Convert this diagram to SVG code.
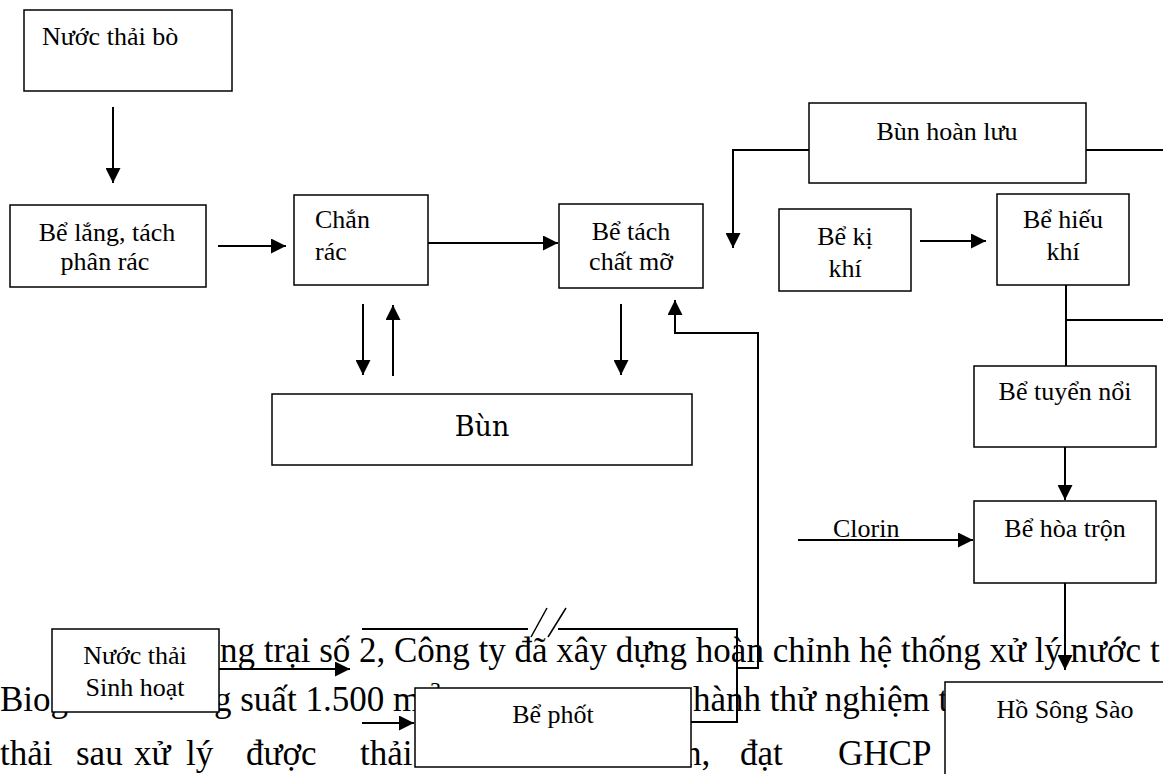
<svg xmlns="http://www.w3.org/2000/svg" width="1163" height="774" viewBox="0 0 1163 774">
<style>
.box{fill:#fff;stroke:#000;stroke-width:1.5}
.ln{fill:none;stroke:#000;stroke-width:2}
.arr{marker-end:url(#ah)}
.lbl{font-family:"Liberation Serif","Times New Roman",serif;font-size:26px;fill:#000}
.mid{text-anchor:middle}
.body{font-family:"Liberation Serif","Times New Roman",serif;font-size:35px;fill:#000}
.bun{font-family:"DejaVu Serif",serif;font-size:27px;fill:#000}
</style>
<defs>
<marker id="ah" markerUnits="userSpaceOnUse" markerWidth="15" markerHeight="15" refX="15" refY="7.5" orient="auto">
<path d="M0,0 L15,7.5 L0,15 z" fill="#000"/>
</marker>
</defs>
<rect width="1163" height="774" fill="#fff"/>

<g id="body-text" class="body">
<text x="220" y="662">ng trại số 2, Công ty đã xây dựng hoàn chỉnh hệ thống xử lý nước t</text>
<text x="0" y="711">Biog</text>
<text x="214" y="711">g suất 1.500 m</text>
<text x="430" y="697" style="font-size:22px">3</text>
<text x="693" y="711">hành thử nghiệm t</text>
<text y="765"><tspan x="0">thải</tspan><tspan x="76">sau</tspan><tspan x="134">xử</tspan><tspan x="186">lý</tspan><tspan x="246">được</tspan><tspan x="360">thải</tspan></text>
<text y="765"><tspan x="684">h,</tspan><tspan x="740">đạt</tspan><tspan x="838">GHCP</tspan></text>
</g>

<g id="connectors">
<line class="ln arr" x1="113" y1="107" x2="113" y2="183"/>
<line class="ln arr" x1="218" y1="246" x2="286" y2="246"/>
<line class="ln arr" x1="428" y1="243" x2="558" y2="243"/>
<polyline class="ln arr" points="809,150 733,150 733,248"/>
<line class="ln" x1="1086" y1="150" x2="1163" y2="150"/>
<line class="ln arr" x1="920" y1="241" x2="986" y2="241"/>
<line class="ln" x1="1066" y1="285" x2="1066" y2="366"/>
<line class="ln" x1="1066" y1="320" x2="1163" y2="320"/>
<line class="ln arr" x1="1065" y1="447" x2="1065" y2="500"/>
<line class="ln arr" x1="798" y1="540" x2="973" y2="540"/>
<line class="ln arr" x1="1065" y1="583" x2="1065" y2="670"/>
<line class="ln arr" x1="363" y1="304" x2="363" y2="375"/>
<line class="ln arr" x1="393" y1="376" x2="393" y2="305"/>
<line class="ln arr" x1="621" y1="304" x2="621" y2="375"/>
<polyline class="ln arr" points="737,668 758,668 758,333 675,333 675,300"/>
<line class="ln arr" x1="219" y1="669" x2="350" y2="669"/>
<line class="ln" x1="362" y1="629" x2="528" y2="629"/>
<polyline class="ln" points="558,629 737,629 737,722 691,722"/>
<line class="ln" x1="531" y1="637" x2="547" y2="608" style="stroke-width:1.5"/>
<line class="ln" x1="548" y1="637" x2="566" y2="608" style="stroke-width:1.5"/>
<line class="ln arr" x1="362" y1="723" x2="414" y2="723"/>
</g>

<g id="nuoc-thai-bo"><rect class="box" x="24" y="10" width="208" height="81"/><text class="lbl" x="42" y="45">Nước thải bò</text></g>
<g id="be-lang"><rect class="box" x="10" y="205" width="196" height="82"/><text class="lbl mid" x="107" y="241">Bể lắng, tách</text><text class="lbl mid" x="105" y="270">phân rác</text></g>
<g id="chan-rac"><rect class="box" x="294" y="195" width="134" height="90"/><text class="lbl" x="315" y="228">Chắn</text><text class="lbl" x="315" y="260">rác</text></g>
<g id="be-tach-mo"><rect class="box" x="559" y="204" width="144" height="84"/><text class="lbl mid" x="631" y="240">Bể tách</text><text class="lbl mid" x="631" y="270">chất mỡ</text></g>
<g id="bun-hoan-luu"><rect class="box" x="809" y="103" width="277" height="80"/><text class="lbl mid" x="947" y="140">Bùn hoàn lưu</text></g>
<g id="be-ki-khi"><rect class="box" x="779" y="209" width="132" height="82"/><text class="lbl mid" x="845" y="245">Bể kị</text><text class="lbl mid" x="845" y="277">khí</text></g>
<g id="be-hieu-khi"><rect class="box" x="997" y="194" width="132" height="91"/><text class="lbl mid" x="1063" y="228">Bể hiếu</text><text class="lbl mid" x="1063" y="260">khí</text></g>
<g id="bun"><rect class="box" x="272" y="394" width="420" height="71"/><text class="bun mid" x="482" y="436">Bùn</text></g>
<g id="be-tuyen-noi"><rect class="box" x="974" y="366" width="182" height="81"/><text class="lbl mid" x="1065" y="400">Bể tuyển nổi</text></g>
<g id="be-hoa-tron"><rect class="box" x="974" y="501" width="182" height="82"/><text class="lbl mid" x="1065" y="537">Bể hòa trộn</text></g>
<g id="clorin"><text class="lbl" x="833" y="537">Clorin</text></g>
<g id="nuoc-thai-sinh-hoat"><rect class="box" x="52" y="629" width="167" height="83"/><text class="lbl mid" x="135" y="664">Nước thải</text><text class="lbl mid" x="135" y="696">Sinh hoạt</text></g>
<g id="be-phot"><rect class="box" x="415" y="688" width="276" height="79"/><text class="lbl mid" x="553" y="723">Bể phốt</text></g>
<g id="ho-song-sao"><rect class="box" x="945" y="682" width="240" height="120"/><text class="lbl mid" x="1065" y="718">Hồ Sông Sào</text></g>
</svg>
